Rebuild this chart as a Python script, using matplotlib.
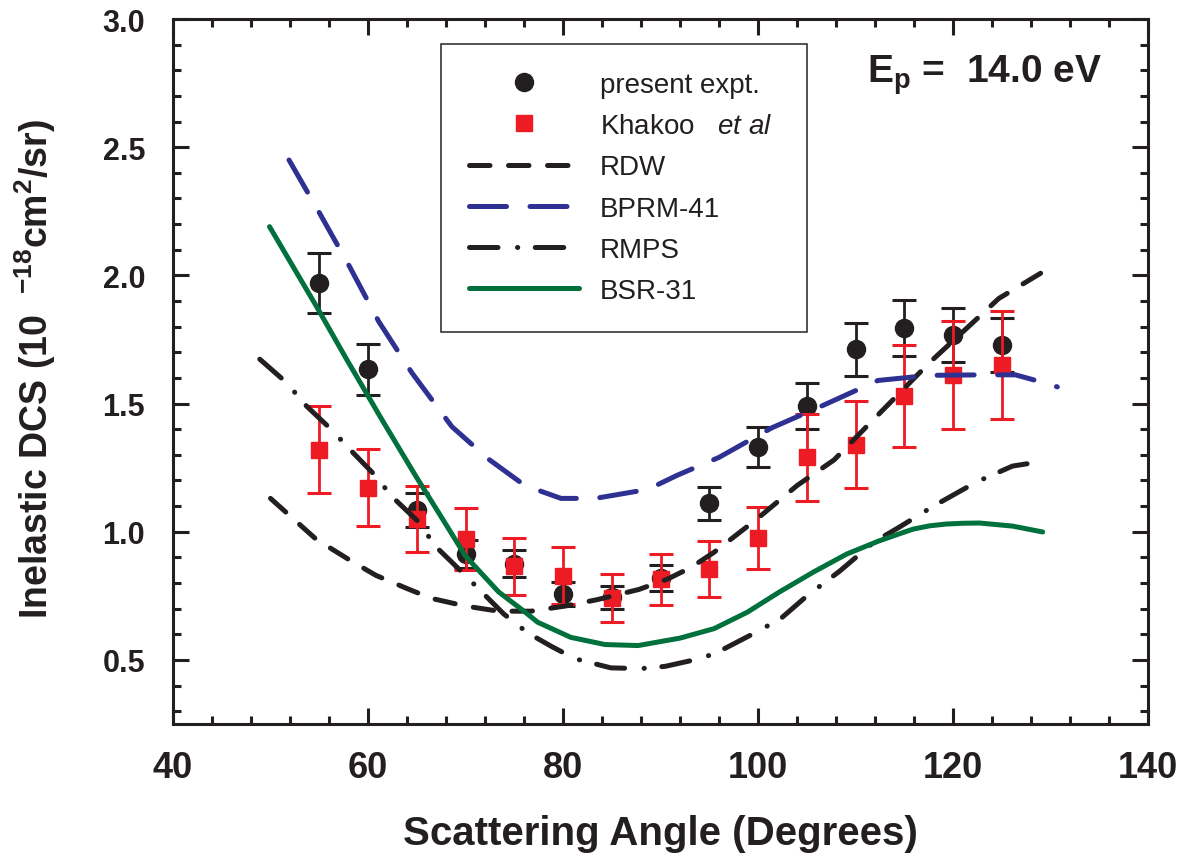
import numpy as np
import matplotlib
matplotlib.use('Agg')
import matplotlib.pyplot as plt
from matplotlib.ticker import MultipleLocator, FormatStrFormatter

plt.rcParams['font.family'] = ['Liberation Sans', 'DejaVu Sans']
plt.rcParams['mathtext.fontset'] = 'custom'
plt.rcParams['mathtext.default'] = 'regular'
plt.rcParams['mathtext.rm'] = 'Liberation Sans'
plt.rcParams['mathtext.it'] = 'Liberation Sans:italic'
plt.rcParams['mathtext.bf'] = 'Liberation Sans:bold'

# measured points
angles = [55, 60, 65, 70, 75, 80, 85, 90, 95, 100, 105, 110, 115, 120, 125]
present_dcs = [1.97, 1.634, 1.085, 0.913, 0.876, 0.757, 0.745, 0.82, 1.111, 1.331, 1.491, 1.712, 1.794, 1.767, 1.728]
present_err = [0.118, 0.099, 0.065, 0.055, 0.054, 0.045, 0.045, 0.05, 0.065, 0.079, 0.09, 0.103, 0.108, 0.106, 0.105]
khakoo_dcs = [1.32, 1.171, 1.05, 0.972, 0.865, 0.829, 0.74, 0.815, 0.855, 0.975, 1.29, 1.339, 1.53, 1.611, 1.651]
khakoo_err = [0.17, 0.15, 0.13, 0.12, 0.11, 0.11, 0.094, 0.1, 0.11, 0.12, 0.17, 0.17, 0.2, 0.21, 0.21]

# theory curves
rdw_x = [50, 54.7, 58.1, 60.8, 63.9, 66.5, 70, 73.4, 76.7, 80.2, 83.5, 87.8, 90.7, 93.1, 95.5, 99.9, 104, 107.8, 111.9, 114.5, 117.6, 121.3, 124.7, 129.5]
rdw_y = [1.13, 0.97, 0.89, 0.83, 0.78, 0.74, 0.71, 0.69, 0.69, 0.71, 0.735, 0.775, 0.815, 0.86, 0.92, 1.05, 1.18, 1.28, 1.44, 1.54, 1.66, 1.79, 1.91, 2.02]

bprm_x = [51.9, 55.0, 58.1, 61.1, 64.5, 68.6, 72.3, 76.1, 79.8, 83.3, 88.7, 91.7, 96.0, 101.4, 106.8, 112.3, 117.6, 123.2, 126.4, 128.5, 130.7]
bprm_y = [2.45, 2.245, 2.035, 1.82, 1.62, 1.41, 1.285, 1.18, 1.13, 1.13, 1.165, 1.22, 1.29, 1.405, 1.495, 1.59, 1.61, 1.612, 1.612, 1.59, 1.565]

rmps_x = [48.9, 51.6, 53.7, 56.2, 58.4, 60.8, 62.4, 65.2, 66.9, 69.3, 71.7, 73.9, 76.4, 78.8, 81.2, 84.9, 88.0, 90.5, 93.1, 95.5, 99.1, 102.3, 105.0, 108.4, 111.9, 114.5, 118.0, 122.4, 126.1, 129.4]
rmps_y = [1.673, 1.583, 1.49, 1.40, 1.311, 1.217, 1.139, 1.038, 0.944, 0.855, 0.764, 0.68, 0.605, 0.553, 0.505, 0.469, 0.466, 0.475, 0.497, 0.523, 0.594, 0.66, 0.749, 0.847, 0.96, 1.018, 1.10, 1.194, 1.256, 1.276]

bsr_x = [49.9, 54.7, 57.8, 61.4, 64.9, 67.2, 70.0, 73.4, 76.1, 77.4, 80.8, 84.3, 87.7, 92.0, 95.5, 98.9, 102.2, 105.7, 109.1, 112.4, 114.2, 115.9, 117.6, 119.3, 121.0, 122.7, 126.1, 129.2]
bsr_y = [2.19, 1.88, 1.673, 1.439, 1.217, 1.077, 0.905, 0.765, 0.687, 0.647, 0.588, 0.56, 0.556, 0.585, 0.622, 0.686, 0.765, 0.843, 0.913, 0.964, 0.988, 1.01, 1.023, 1.03, 1.033, 1.034, 1.022, 0.999]

black = '#231F20'
red = '#ED1C24'
blue = '#2E3192'
green = '#00703C'

fig = plt.figure(figsize=(11.86, 8.62), dpi=100)
ax = fig.add_axes([173/1186, 1-725/862, 975/1186, 705/862])

ax.errorbar(angles, present_dcs, yerr=present_err, fmt='none', ecolor=black,
            elinewidth=2.0, capsize=8.5, capthick=2.2, zorder=2)
ax.plot(angles, present_dcs, 'o', color=black, ms=13, label='present expt.', zorder=3)
ax.errorbar(angles, khakoo_dcs, yerr=khakoo_err, fmt='none', ecolor=red,
            elinewidth=2.0, capsize=8.5, capthick=2.2, zorder=4)
ax.plot(angles, khakoo_dcs, 's', color=red, ms=11.5, label=r'Khakoo   $\it{et\ al}$', zorder=5)

lw = 3.6
ax.plot(rdw_x, rdw_y, color=black, lw=lw, ls=(0, (4.1, 3.7)), dash_capstyle='round',
        label='RDW', zorder=6)
ax.plot(bprm_x, bprm_y, color=blue, lw=lw, ls=(0, (7.4, 4.7)), dash_capstyle='round',
        label='BPRM-41', zorder=6)
ax.plot(rmps_x, rmps_y, color=black, lw=lw, ls=(0, (5.7, 3.9, 0.05, 3.5)), dash_capstyle='round',
        label='RMPS', zorder=6)
ax.plot(bsr_x, bsr_y, color=green, lw=lw, solid_capstyle='round', label='BSR-31', zorder=6)

ax.set_xlim(40, 140)
ax.set_ylim(0.25, 3.0)
ax.xaxis.set_major_locator(MultipleLocator(20))
ax.xaxis.set_minor_locator(MultipleLocator(4))
ax.yaxis.set_major_locator(MultipleLocator(0.5))
ax.yaxis.set_minor_locator(MultipleLocator(0.1))
ax.yaxis.set_major_formatter(FormatStrFormatter('%.1f'))
ax.tick_params(which='both', direction='in', top=True, right=True, width=2.2, color=black)
ax.tick_params(which='major', length=11.5)
ax.tick_params(which='minor', length=5.8)
ax.tick_params(axis='x', pad=19)
ax.tick_params(axis='y', pad=20)
for s in ax.spines.values():
    s.set_linewidth(2.2)
    s.set_color(black)

for t in ax.get_xticklabels():
    t.set_fontweight('bold')
    t.set_fontsize(26)
    t.set_color(black)
for t in ax.get_yticklabels():
    t.set_fontweight('bold')
    t.set_fontsize(22)
    t.set_color(black)

ax.set_xlabel('Scattering Angle (Degrees)', fontweight='bold', fontsize=29, color=black)
ax.xaxis.set_label_coords(0.5, -0.127)
ax.set_ylabel(r'Inelastic DCS (10  $^{-18}$cm$^{2}$/sr)', fontweight='bold',
              fontsize=27, color=black)
ax.yaxis.set_label_coords(-0.118, 0.505)

ax.text(0.7118, 0.9106, r'E$_{p}$ =  14.0 eV', transform=ax.transAxes, ha='left', va='baseline',
        fontsize=28, fontweight='bold', color=black)

leg = ax.legend(loc='upper left', bbox_to_anchor=(0.2749, 0.5645, 0.375, 0.4), mode='expand',
                borderaxespad=0, fontsize=20, handlelength=3.96, handletextpad=0.75,
                labelspacing=0.55, borderpad=1.0, fancybox=False, framealpha=1)
leg.get_frame().set_edgecolor('#333333')
leg.get_frame().set_linewidth(1.2)
for t in leg.get_texts():
    t.set_color(black)

fig.savefig('out.png', dpi=100)
